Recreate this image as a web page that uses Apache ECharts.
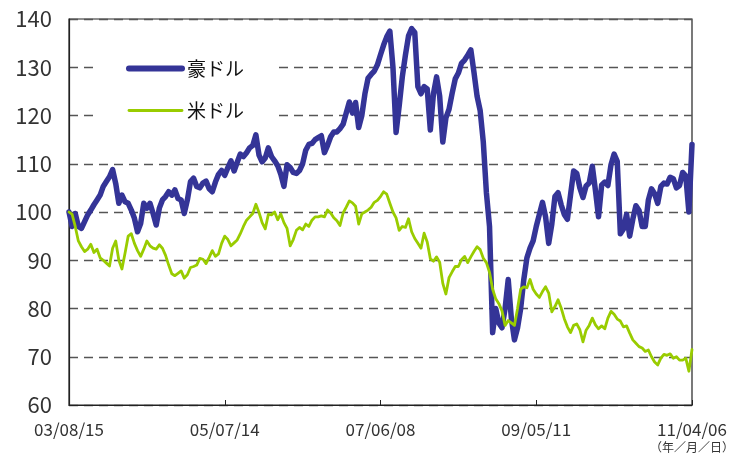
<!DOCTYPE html>
<html>
<head>
<meta charset="utf-8">
<script src="https://cdn.jsdelivr.net/npm/echarts@6/dist/echarts.min.js"></script>
<style>
  html, body { margin: 0; padding: 0; background: #fff; }
  #chart { width: 743px; height: 454px; }
</style>
</head>
<body>
<div id="chart"></div>
<script>
// Tick labels along the date axis (yy/mm/dd), evenly spaced
const tickLabels = ['03/08/15', '05/07/14', '07/06/08', '09/05/11', '11/04/06'];
const dateUnit = '（年／月／日）';

// Series names
const seriesNames = ['豪ドル', '米ドル'];

// AUD/JPY indexed to 100 at the start
const audValues = [
  100.0, 97.0, 99.7, 97.0, 96.6, 98.0, 99.4, 100.4, 101.5, 102.5,
  103.5, 105.3, 106.3, 107.3, 108.8, 105.9, 101.8, 103.5, 102.1, 101.8,
  100.4, 98.7, 95.9, 97.6, 101.8, 100.8, 101.8, 99.7, 97.3, 100.8,
  102.5, 103.2, 104.2, 103.5, 104.6, 102.8, 102.5, 99.7, 102.5, 106.3,
  107.0, 105.3, 105.0, 106.0, 106.4, 104.8, 104.2, 106.2, 107.8, 108.6,
  107.6, 109.2, 110.6, 108.5, 110.3, 112.0, 111.5, 112.3, 113.3, 113.8,
  116.0, 111.8, 110.4, 111.2, 113.3, 111.5, 110.6, 109.6, 107.8, 105.3,
  109.8, 109.2, 108.2, 108.0, 108.6, 110.0, 112.8, 114.0, 114.2, 115.0,
  115.4, 115.8, 112.3, 113.8, 115.6, 116.6, 116.6, 117.3, 118.2, 120.5,
  122.8, 120.5, 122.7, 117.5, 120.0, 124.5, 127.7, 128.5, 129.2, 130.5,
  132.6, 134.6, 136.3, 137.5, 130.0, 116.5, 122.0, 128.0, 132.5, 136.5,
  138.0, 137.2, 126.0, 124.5, 126.0, 125.5, 117.0, 124.5, 128.0, 124.0,
  114.5, 119.5, 121.3, 124.6, 127.6, 128.8, 130.8, 131.5, 132.5, 133.6,
  129.0, 124.0, 121.0, 114.5, 104.0, 97.0, 75.0, 80.0, 77.0, 76.0,
  80.0, 86.0, 78.0, 73.5, 76.0, 80.0, 86.0, 90.5, 92.5, 94.0,
  97.0, 99.5, 102.0, 99.0, 93.5, 97.5, 103.2, 104.0, 101.5, 99.5,
  98.5, 103.5, 108.5, 108.0, 105.0, 103.0, 105.4, 106.0, 109.5, 104.5,
  99.0, 105.6, 106.2, 105.5, 109.8, 112.0, 110.5, 95.5, 96.5, 99.5,
  95.0, 98.5, 101.3, 100.3, 97.0, 97.0, 102.5, 104.8, 103.8, 101.8,
  105.3, 106.0, 105.8, 107.2, 106.9, 105.0, 105.5, 108.2, 107.5, 100.0,
  114.0
];

// USD/JPY indexed to 100 at the start
const usdValues = [
  100.0, 99.5, 97.0, 94.0, 92.8, 91.8, 92.3, 93.3, 91.6, 92.3,
  90.5, 90.0, 89.4, 88.8, 92.5, 94.0, 90.0, 88.2, 91.5, 95.0,
  95.5, 93.5, 92.0, 90.8, 92.3, 94.0, 93.0, 92.5, 92.3, 93.2,
  92.5, 91.0, 89.0, 87.2, 86.8, 87.3, 87.8, 86.3, 87.0, 88.5,
  88.7, 89.0, 90.4, 90.2, 89.3, 90.6, 92.0, 90.8, 91.3, 93.5,
  95.0, 94.3, 93.0, 93.6, 94.2, 95.5, 97.0, 98.3, 99.0, 99.7,
  101.6, 99.9, 97.8, 96.5, 99.5, 99.4, 100.0, 98.4, 99.6, 97.8,
  96.6, 93.0, 94.3, 96.2, 96.8, 96.3, 97.5, 97.0, 98.3, 99.0,
  99.0, 99.2, 99.0, 100.4, 99.8, 98.8, 98.2, 97.2, 99.8, 101.0,
  102.3, 101.9, 101.2, 97.5, 99.6, 100.0, 100.4, 101.0, 102.0, 102.4,
  103.2, 104.2, 103.7, 101.8, 100.0, 98.8, 96.2, 97.0, 96.8, 98.6,
  95.9, 94.5, 93.5, 92.5, 95.6, 93.8, 90.3, 89.8, 90.7, 89.6,
  85.2, 83.0, 86.4, 87.6, 88.7, 88.7, 90.1, 90.8, 89.5, 90.7,
  91.8, 92.8, 92.2, 90.4, 89.5, 87.5, 84.0, 82.0, 81.0, 79.5,
  76.5, 77.5, 77.0, 76.5, 80.0, 84.0, 84.5, 84.3, 86.0, 84.0,
  83.0, 82.3, 83.5, 84.5, 83.2, 79.3, 80.4, 81.8, 80.1, 77.9,
  76.2, 75.0, 76.5, 76.8, 75.6, 73.1, 75.5, 76.5, 78.0, 76.6,
  75.8, 76.4, 75.8, 78.0, 79.4, 78.8, 77.8, 77.4, 76.2, 76.4,
  74.9, 73.5, 72.8, 72.1, 71.8, 71.1, 71.4, 70.0, 68.9, 68.3,
  69.7, 70.5, 70.3, 70.6, 69.7, 70.0, 69.3, 69.3, 69.7, 67.0,
  71.5
];

// Category per observation; labels sit on every labelStep-th point
const categories = audValues.map((_, i) => String(i));
const labelStep = (audValues.length - 1) / (tickLabels.length - 1);

const FONT = '"Noto Sans CJK JP", "Noto Sans", sans-serif';
const AUD_COLOR = '#343497';
const USD_COLOR = '#99cc00';

const chart = echarts.init(document.getElementById('chart'), null, { renderer: 'canvas' });

chart.setOption({
  animation: false,
  backgroundColor: '#fff',
  textStyle: { fontFamily: FONT },
  grid: {
    left: 69, right: 51, top: 19, bottom: 49,
    show: true, borderColor: '#222', borderWidth: 1.2
  },
  legend: {
    data: [
      { name: seriesNames[0], lineStyle: { width: 6, cap: 'round', color: AUD_COLOR } },
      { name: seriesNames[1], lineStyle: { width: 2.8, cap: 'round', color: USD_COLOR } }
    ],
    orient: 'vertical',
    left: 94, top: 40,
    padding: [19, 35, 12, 32],
    itemWidth: 53, itemHeight: 14, itemGap: 23,
    itemStyle: { opacity: 0 },
    backgroundColor: '#fff',
    textStyle: { fontSize: 19, color: '#111', fontFamily: FONT }
  },
  xAxis: {
    type: 'category',
    data: categories,
    boundaryGap: false,
    axisLine: { lineStyle: { color: '#222', width: 1.2 } },
    axisTick: {
      show: true, inside: true, length: 5,
      interval: labelStep - 1,
      lineStyle: { color: '#222' }
    },
    axisLabel: {
      interval: labelStep - 1,
      showMinLabel: true, showMaxLabel: true,
      margin: 15,
      fontSize: 17, color: '#333', fontFamily: FONT,
      lineHeight: 20,
      formatter: (value, index) => {
        const k = Math.round(index / labelStep);
        if (k === tickLabels.length - 1) {
          return tickLabels[k] + '\n{u|' + dateUnit + '}';
        }
        return tickLabels[k];
      },
      rich: { u: { fontSize: 12, lineHeight: 14, color: '#333', fontFamily: FONT } }
    },
    splitLine: { show: false }
  },
  yAxis: {
    type: 'value',
    min: 60, max: 140, interval: 10,
    axisLine: { show: true, lineStyle: { color: '#222', width: 1.2 } },
    axisTick: { show: false },
    axisLabel: { fontSize: 22, color: '#333', margin: 17, fontFamily: FONT },
    splitLine: { show: true, lineStyle: { color: '#555', type: [9, 6], width: 1.3 } }
  },
  series: [
    {
      name: seriesNames[0], type: 'line', data: audValues,
      symbol: 'none', showSymbol: false, z: 2,
      color: AUD_COLOR,
      lineStyle: { color: AUD_COLOR, width: 5.5, cap: 'round', join: 'round' }
    },
    {
      name: seriesNames[1], type: 'line', data: usdValues,
      symbol: 'none', showSymbol: false, z: 3,
      color: USD_COLOR,
      lineStyle: { color: USD_COLOR, width: 2.8, cap: 'round', join: 'round' }
    }
  ]
});
</script>
</body>
</html>
